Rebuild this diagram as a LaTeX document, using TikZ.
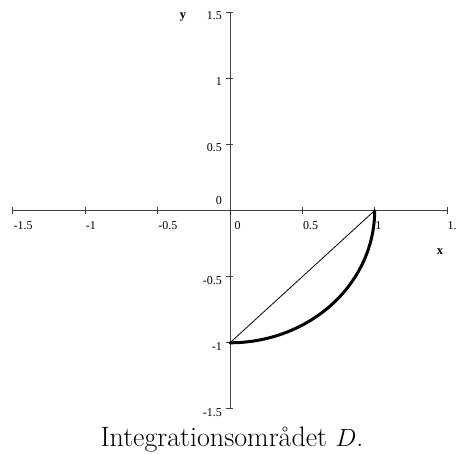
\documentclass[tikz,border=0pt]{standalone}
\usepackage{fontspec}
\newfontfamily\lblfont{Liberation Serif}
\begin{document}
\begin{tikzpicture}[x=144.7pt,y=132.3pt,
  axisline/.style={line width=0.9pt, draw=black!75},
  tickmark/.style={line width=0.9pt, draw=black!75},
  ticklbl/.style={font=\fontsize{12}{14}\lblfont, inner sep=0pt},
  axislbl/.style={font=\fontsize{12.5}{14}\lblfont\bfseries, inner sep=0pt},
  chord/.style={line width=0.8pt, draw=black},
  boundary/.style={line width=3pt, draw=black, line cap=round}]
\useasboundingbox (-1.5895,-1.8405) rectangle (1.5619,1.5911);
\coordinate (O) at (0,0);
\coordinate (xl) at (-1.5,0);
\coordinate (xr) at (1.5,0);
\coordinate (yb) at (0,-1.5);
\coordinate (yt) at (0,1.5);
\coordinate (A) at (1,0);
\coordinate (B) at (0,-1);
% axes
\draw[axisline] (xl) -- (xr);
\draw[axisline] (yb) -- (yt);
% ticks
\foreach \v/\n in {-1.5/a,-1/b,-0.5/c,0/d,0.5/e,1/f,1.5/g}{
  \coordinate (tx\n) at (\v,0);
  \draw[tickmark] ([yshift=3.5pt]tx\n) -- ([yshift=-3.5pt]tx\n);
  \coordinate (ty\n) at (0,\v);
  \draw[tickmark] ([xshift=-3.5pt]ty\n) -- ([xshift=3.5pt]ty\n);
}
% x tick labels
\foreach \n/\t in {a/-1.5,b/-1,c/-0.5,e/0.5,f/1,g/1.}{
  \node[ticklbl, anchor=north west] (lx\n) at ([xshift=0.5pt,yshift=-10.5pt]tx\n) {\t};
}
\node[ticklbl, anchor=north west] (lxd) at ([xshift=4.5pt,yshift=-10.5pt]txd) {0};
% y tick labels
\foreach \n/\t in {a/-1.5,b/-1,c/-0.5,e/0.5,f/1,g/1.5}{
  \node[ticklbl, anchor=east] (ly\n) at ([xshift=-8pt,yshift=-3.5pt]ty\n) {\t};
}
\node[ticklbl] (lyd) at ([xshift=-11pt,yshift=10pt]tyd) {0};
% axis labels
\node[axislbl] (ylab) at (-0.3248,1.4626) {y};
\node[axislbl] (xlab) at (1.4513,-0.3137) {x};
% region
\draw[chord] (B) -- (A);
\draw[boundary] (B) plot[domain=-90:0,samples=80] ({cos(\x)},{sin(\x)});
% caption
\node[font=\fontsize{28}{32}\selectfont\rmfamily, inner sep=0pt, anchor=base] (cap) at (0.0138,-1.7838) {Integrationsområdet $D$.};
\end{tikzpicture}
\end{document}
